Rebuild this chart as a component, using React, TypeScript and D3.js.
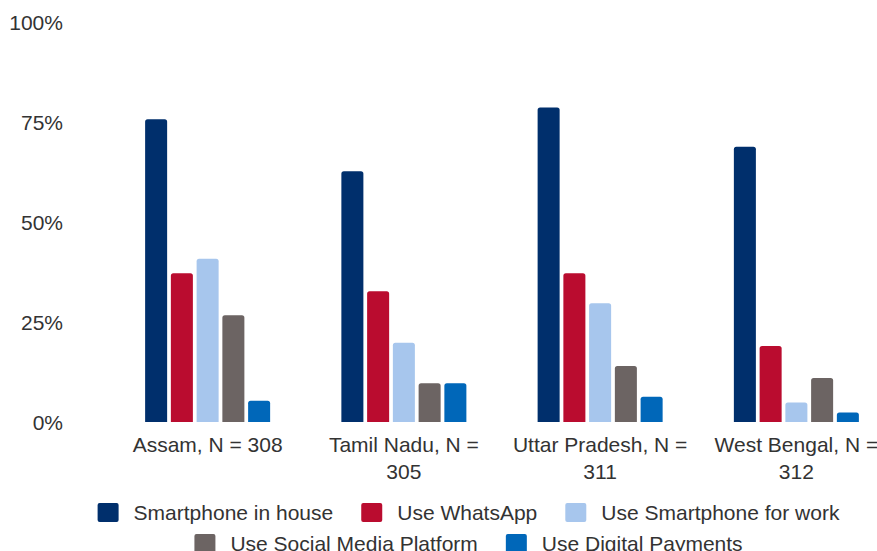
import React from "react";
import * as d3 from "d3";

const categories = [
  "Assam, N = 308",
  "Tamil Nadu, N = 305",
  "Uttar Pradesh, N = 311",
  "West Bengal, N = 312",
];
const seriesNames = [
  "Smartphone in house",
  "Use WhatsApp",
  "Use Smartphone for work",
  "Use Social Media Platform",
  "Use Digital Payments",
];
const smartphoneInHouse = [75.7, 62.7, 78.6, 68.8];
const useWhatsApp = [37.2, 32.7, 37.2, 19.0];
const useSmartphoneForWork = [40.8, 19.8, 29.7, 4.9];
const useSocialMedia = [26.7, 9.7, 14.0, 11.0];
const useDigitalPayments = [5.3, 9.7, 6.3, 2.4];
const yTicks = [0, 25, 50, 75, 100];

const seriesValues = [
  smartphoneInHouse,
  useWhatsApp,
  useSmartphoneForWork,
  useSocialMedia,
  useDigitalPayments,
];
const colors = ["#002F6C", "#BA0C2F", "#A7C6ED", "#6C6463", "#0067B9"];

const W = 877;
const H = 551;
const FONT = "'Liberation Sans', Arial, sans-serif";
const FS = 21;
const TEXT = "#333333";

function measure(text: string): number {
  const c = document.createElement("canvas");
  const ctx = c.getContext("2d");
  if (!ctx) return text.length * FS * 0.55;
  ctx.font = `${FS}px ${FONT}`;
  return ctx.measureText(text).width;
}

function wrap(text: string, maxW: number): string[] {
  const words = text.split(" ");
  const lines: string[] = [];
  let cur = "";
  for (const w of words) {
    const t = cur ? cur + " " + w : w;
    if (measure(t) > maxW && cur) {
      lines.push(cur);
      cur = w;
    } else cur = t;
  }
  if (cur) lines.push(cur);
  return lines;
}

function topRoundedRect(x: number, y: number, w: number, h: number, r: number) {
  const rr = Math.min(r, h, w / 2);
  return `M${x},${y + h}V${y + rr}Q${x},${y} ${x + rr},${y}H${x + w - rr}Q${x + w},${y} ${x + w},${y + rr}V${y + h}Z`;
}

export default function App() {
  const y = d3.scaleLinear().domain([0, 100]).range([422, 22]);
  const x0 = d3
    .scaleBand<string>()
    .domain(categories)
    .range([109.5, 894.5])
    .paddingInner(0.363)
    .paddingOuter(0.1815);
  const x1 = d3
    .scaleBand<string>()
    .domain(seriesNames)
    .range([0, x0.bandwidth()])
    .paddingInner(0.145)
    .paddingOuter(0);

  // legend layout
  const boxW = 21;
  const boxH = 19;
  const boxGap = 15;
  const itemGap = 28;
  const rows = [seriesNames.slice(0, 3), seriesNames.slice(3)];
  const rowY = [512.5, 543.5];
  const legendCenter = 468.5;

  return (
    <svg
      width={W}
      height={H}
      style={{ position: "absolute", left: 0, top: 0, background: "#fff" }}
      fontFamily={FONT}
    >
      <rect width={W} height={H} fill="#fff" />
      {yTicks.map((t) => (
        <text
          key={t}
          x={63}
          y={y(t)}
          dy="0.36em"
          textAnchor="end"
          fontSize={FS}
          fill={TEXT}
        >
          {t}%
        </text>
      ))}
      {categories.map((cat, ci) => (
        <g key={cat} transform={`translate(${x0(cat)},0)`}>
          {seriesNames.map((s, si) => {
            const v = seriesValues[si][ci];
            const bx = x1(s) as number;
            return (
              <path
                key={s}
                d={topRoundedRect(bx, y(v), x1.bandwidth(), y(0) - y(v), 2.5)}
                fill={colors[si]}
              />
            );
          })}
          {wrap(cat, 178).map((line, li) => (
            <text
              key={li}
              x={x0.bandwidth() / 2}
              y={452 + li * 27}
              textAnchor="middle"
              fontSize={FS}
              fill={TEXT}
            >
              {line}
            </text>
          ))}
        </g>
      ))}
      {rows.map((row, ri) => {
        const widths = row.map((n) => boxW + boxGap + measure(n));
        const total = d3.sum(widths) + itemGap * (row.length - 1);
        let cx = legendCenter - total / 2;
        return (
          <g key={ri}>
            {row.map((n, i) => {
              const si = seriesNames.indexOf(n);
              const xStart = cx;
              cx += widths[i] + itemGap;
              return (
                <g key={n}>
                  <rect
                    x={xStart}
                    y={rowY[ri] - boxH / 2}
                    width={boxW}
                    height={boxH}
                    rx={2}
                    fill={colors[si]}
                  />
                  <text
                    x={xStart + boxW + boxGap}
                    y={rowY[ri]}
                    dy="0.36em"
                    fontSize={FS}
                    fill={TEXT}
                  >
                    {n}
                  </text>
                </g>
              );
            })}
          </g>
        );
      })}
    </svg>
  );
}
